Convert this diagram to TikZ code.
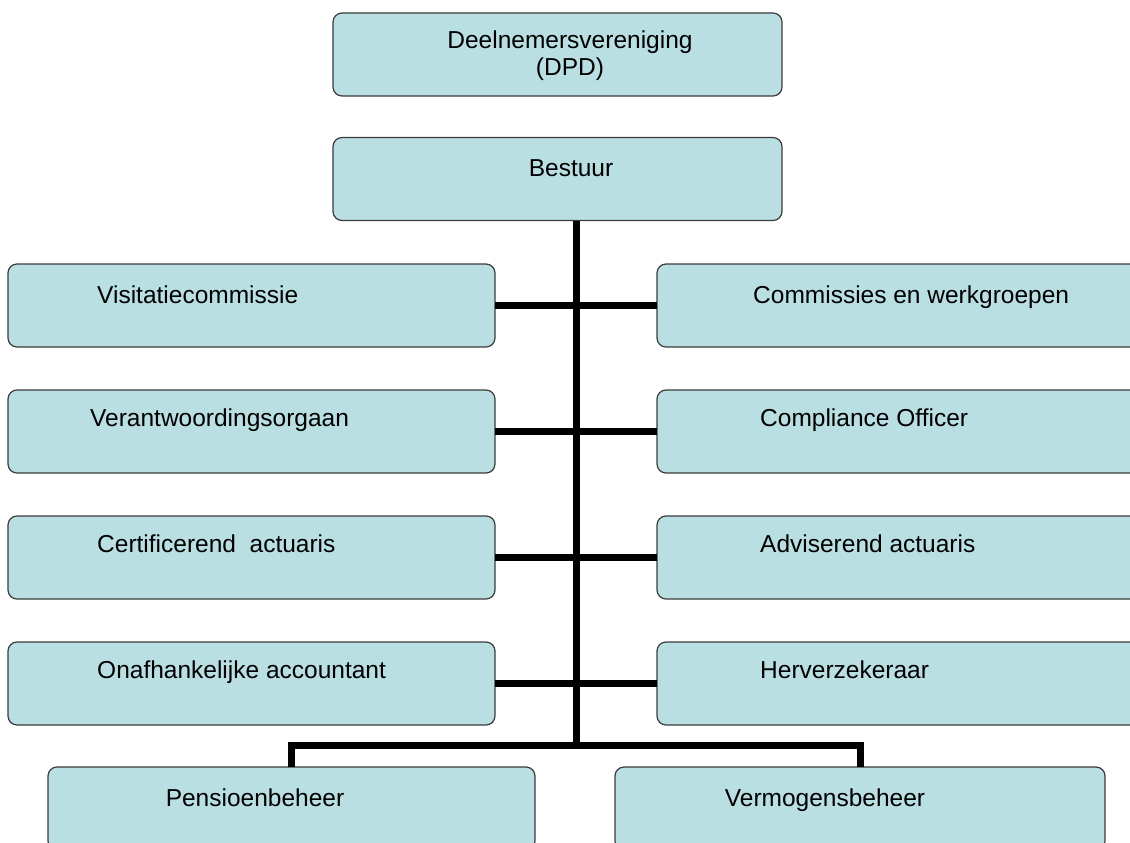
\documentclass[tikz,border=0pt]{standalone}
\usepackage{fontspec}
\setmainfont{Liberation Sans}
\definecolor{boxfill}{RGB}{186,223,226}
\definecolor{boxline}{RGB}{60,60,60}
\begin{document}
\begin{tikzpicture}[x=1pt,y=-1pt,
  box/.style={draw=boxline, fill=boxfill, line width=1.2pt, rounded corners=9pt,
    minimum height=83pt, inner sep=0pt, outer sep=0pt},
  lbl/.style={inner sep=0pt, font=\fontsize{24.5}{28}\selectfont, text=black},
  conn/.style={line width=7pt, draw=black}]
\useasboundingbox (0,0) rectangle (1130,843);
% boxes
\node[box, minimum width=449pt] (dpd) at (557.5,54.5) {};
\node[box, minimum width=449pt] (bestuur) at (557.5,179) {};
\node[box, minimum width=487pt] (vis) at (251.5,305.5) {};
\node[box, minimum width=487pt] (ver) at (251.5,431.5) {};
\node[box, minimum width=487pt] (cer) at (251.5,557.5) {};
\node[box, minimum width=487pt] (ona) at (251.5,683.5) {};
\node[box, minimum width=490pt] (com) at (902,305.5) {};
\node[box, minimum width=490pt] (cpl) at (902,431.5) {};
\node[box, minimum width=490pt] (adv) at (902,557.5) {};
\node[box, minimum width=490pt] (her) at (902,683.5) {};
\node[box, minimum width=487pt] (pen) at (291.5,808.5) {};
\node[box, minimum width=490pt] (vrm) at (860,808.5) {};
% labels
\node[lbl, anchor=base] (tdpd1) at (570,49) {Deelnemersvereniging};
\node[lbl, anchor=base] (tdpd2) at (570,75) {(DPD)};
\node[lbl, anchor=base] (tbes) at (571,176) {Bestuur};
\node[lbl, anchor=base west] (tvis) at (97,303) {Visitatiecommissie};
\node[lbl, anchor=base west] (tver) at (90,426) {Verantwoordingsorgaan};
\node[lbl, anchor=base west] (tcer) at (97,552) {Certificerend\ \ actuaris};
\node[lbl, anchor=base west] (tona) at (97,678) {Onafhankelijke accountant};
\node[lbl, anchor=base west] (tcom) at (753,303) {Commissies en werkgroepen};
\node[lbl, anchor=base west] (tcpl) at (760,426) {Compliance Officer};
\node[lbl, anchor=base west] (tadv) at (760,552) {Adviserend actuaris};
\node[lbl, anchor=base west] (ther) at (760,678) {Herverzekeraar};
\node[lbl, anchor=base] (tpen) at (255,806) {Pensioenbeheer};
\node[lbl, anchor=base] (tvrm) at (825,806) {Vermogensbeheer};
% connectors
\coordinate (trunk) at (576,745);
\draw[conn] (trunk |- bestuur.south) -- (trunk);
\draw[conn] (vis.east) -- (com.west);
\draw[conn] (ver.east) -- (cpl.west);
\draw[conn] (cer.east) -- (adv.west);
\draw[conn] (ona.east) -- (her.west);
\draw[conn, line join=miter] (pen.north) |- (trunk) -| (vrm.north);
\end{tikzpicture}
\end{document}
